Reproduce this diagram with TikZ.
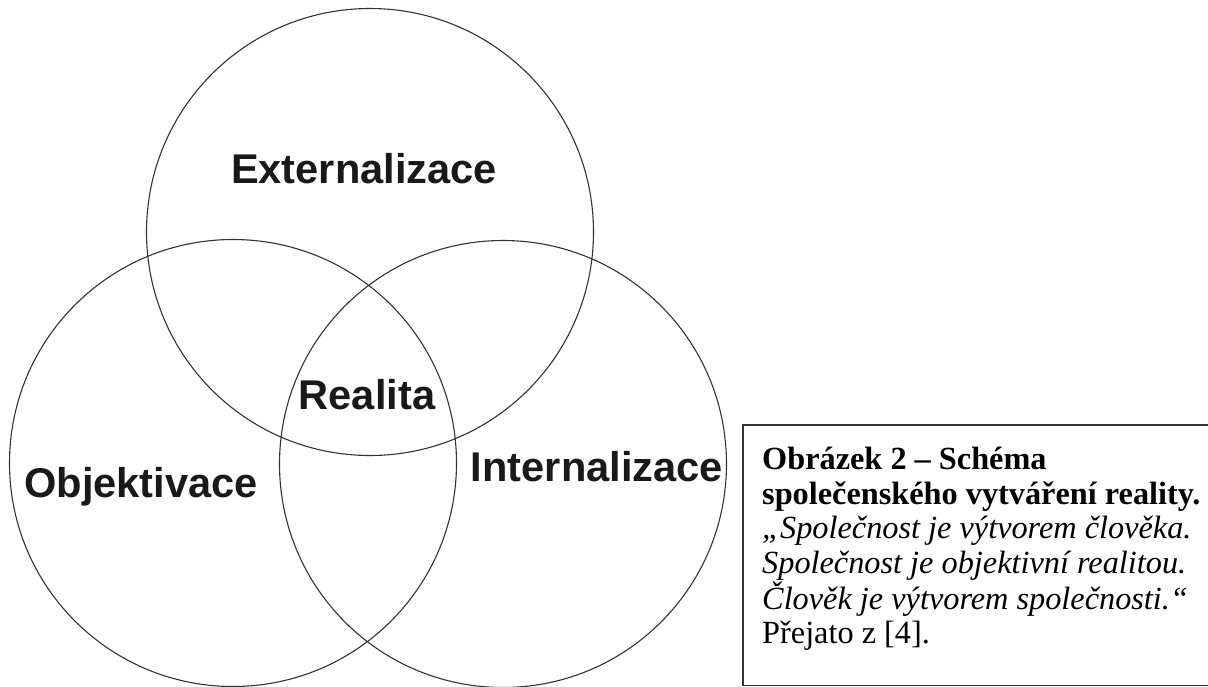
\documentclass[tikz,border=0pt]{standalone}
\usepackage{fontspec}
\setmainfont{Liberation Serif}
\newfontfamily\arialfont{Liberation Sans}
\usepackage{tikz}
\usetikzlibrary{positioning}
\tikzstyle{ring} = [draw=black!80, line width=1.1pt, circle, minimum size=447pt, inner sep=0pt]
\tikzstyle{term} = [font=\arialfont\bfseries\fontsize{41.6}{44}\selectfont, inner sep=0pt, text=black!90]
\tikzstyle{capframe} = [rectangle, minimum width=520pt, minimum height=260pt, anchor=north west, inner sep=0pt]
\tikzstyle{edge} = [draw=black!80, line width=1.3pt]
\tikzstyle{note} = [font=\fontsize{32.3}{34.6}\selectfont, align=left, inner sep=0pt, anchor=north west]

\begin{document}
\begin{tikzpicture}[x=1pt, y=-1pt, node distance=5mm]
    \useasboundingbox (0,0) rectangle (1208,686);

    % Circles.
    \foreach \n/\x/\y in {top/370/232, left/233/463, right/503/464} {%
        \node (\n) [ring] at (\x, \y) {};
    }

    % Labels.
    \node (externalizace) [term, anchor=base] at (364, 183) {Externalizace};
    \node (realita) [term, anchor=base] at (367, 409) {Realita};
    \node (objektivace) [term, anchor=base] at (141, 497) {Objektivace};
    \node (internalizace) [term, anchor=base] at (597, 481) {Internalizace};

    % Caption, its frame runs off the right edge.
    \node (caption box) [capframe] at (743, 425) {};
    \draw [edge] (caption box.north east) -- (caption box.north west)
        -- (caption box.south west) -- (caption box.south east);
    \node (caption) [note, below right=22pt and 19pt of caption box.north west] {%
        \textbf{Obrázek 2 – Schéma}\\
        \textbf{společenského vytváření reality.}\\
        \textit{„Společnost je výtvorem člověka.}\\
        \textit{Společnost je objektivní realitou.}\\
        \textit{Člověk je výtvorem společnosti.“}\\
        Přejato z [4].};
\end{tikzpicture}
\end{document}
